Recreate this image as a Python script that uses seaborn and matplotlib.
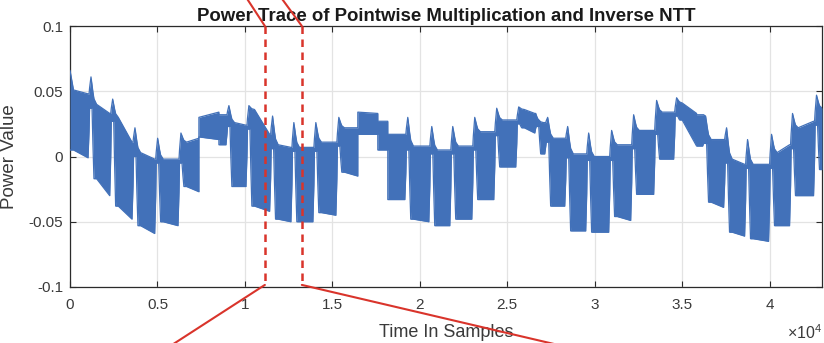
import numpy as np
import pandas as pd
import matplotlib
matplotlib.use("Agg")
import matplotlib.pyplot as plt
import seaborn as sns
from matplotlib.ticker import FuncFormatter, FixedLocator

# ---------------- data (envelope of the trace) ----------------
burst_start = [0, 1200, 2440, 3714, 5011, 6343, 7371, 8514, 9086, 10229,
               11583, 12800, 14057, 15371, 16457, 17600, 18171, 19314, 20686, 21886,
               23143, 24400, 25657, 26743, 27314, 28457, 29657, 30971, 32229, 33543,
               34686, 35829, 36343, 37543, 38743, 40114, 41314, 42686]
spike_peak = [0.066, 0.061, 0.044, 0.022, 0.014, 0.018, 0.030, 0.032, 0.039, 0.039,
              0.031, 0.026, 0.026, 0.030, 0.034, 0.027, 0.017, 0.030, 0.023, 0.023,
              0.030, 0.037, 0.038, 0.029, 0.030, 0.023, 0.018, 0.020, 0.032, 0.043,
              0.045, 0.032, 0.031, 0.022, 0.013, 0.017, 0.033, 0.047]
band_top_start = [0.051, 0.040, 0.030, 0.003, -0.002, 0.011, 0.030, 0.032, 0.026, 0.036,
                  0.009, 0.007, 0.011, 0.022, 0.034, 0.027, 0.017, 0.008, 0.005, 0.008,
                  0.019, 0.028, 0.036, 0.026, 0.014, 0.002, 0.000, 0.009, 0.020, 0.034,
                  0.041, 0.032, 0.013, -0.002, -0.006, 0.003, 0.022, 0.037]
band_top_end = [0.048, 0.033, 0.011, -0.002, -0.002, 0.014, 0.034, 0.032, 0.024, 0.017,
                0.007, 0.007, 0.011, 0.022, 0.033, 0.027, 0.017, 0.008, 0.005, 0.008,
                0.019, 0.028, 0.033, 0.026, 0.014, 0.002, 0.000, 0.009, 0.020, 0.034,
                0.033, 0.032, 0.013, -0.006, -0.006, 0.009, 0.027, 0.037]
band_low_start = [0.005, -0.017, -0.038, -0.053, -0.050, -0.023, 0.015, 0.009, -0.023, -0.038,
                  -0.048, -0.050, -0.043, -0.012, 0.017, 0.005, -0.033, -0.048, -0.053, -0.048,
                  -0.033, -0.008, 0.022, 0.002, -0.038, -0.057, -0.058, -0.046, -0.029, -0.002,
                  0.028, 0.008, -0.035, -0.058, -0.063, -0.053, -0.030, -0.010]
band_low_end = [-0.001, -0.030, -0.048, -0.059, -0.053, -0.027, 0.013, 0.009, -0.023, -0.042,
                -0.050, -0.050, -0.045, -0.015, 0.017, 0.005, -0.033, -0.050, -0.053, -0.048,
                -0.033, -0.008, 0.018, 0.002, -0.038, -0.057, -0.058, -0.049, -0.029, -0.002,
                0.008, 0.008, -0.039, -0.061, -0.065, -0.053, -0.030, -0.010]
trace_end = 43000

x_ticks = [0, 5000, 10000, 15000, 20000, 25000, 30000, 35000, 40000]
y_ticks = [-0.1, -0.05, 0, 0.05, 0.1]

# zoom-window annotation (red lines)
zoom_x = [11143, 13257]
zoom_y = [0.1, -0.0984]
lead_top_x = [9922, 11893]
lead_bottom_x = [5757, 28098]
lead_top_y = 0.125
lead_bottom_y = -0.145

# ---------------- build envelope polyline from the burst table ----------------
t, top, low = [], [], []
n = len(burst_start)
for i in range(n):
    s = burst_start[i]
    e = burst_start[i + 1] if i + 1 < n else trace_end
    pk, ts, te, ls, le = spike_peak[i], band_top_start[i], band_top_end[i], band_low_start[i], band_low_end[i]
    spike = pk > ts + 1e-9
    nxt_spike = (i + 1 < n) and (spike_peak[i + 1] > band_top_start[i + 1] + 1e-9)
    if i == 0:
        t += [s, s + 200]; top += [pk, ts]; low += [ls, ls]
    elif spike:
        prev_te = band_top_end[i - 1]
        gap = min(ts, prev_te) - 0.003
        t += [s - 80, s, s + 60, s + 110, s + 170, s + 320]
        top += [prev_te + 0.35 * (pk - prev_te), pk, pk - 0.3 * (pk - ts),
                pk - 0.55 * (pk - ts), pk - 0.8 * (pk - ts), ts]
        low += [gap, gap, gap, 0.5 * (gap + ls), ls, ls]
    else:
        t += [s + 1]; top += [ts]; low += [ls]
    if nxt_spike:
        t += [e - 170, e - 110]; top += [te, te]; low += [le, 0.5 * (le + min(te, band_top_start[i + 1]))]
    else:
        t += [e - 1]; top += [te]; low += [le]

trace = pd.DataFrame({"sample": t, "upper": top, "lower": low})

# ---------------- figure ----------------
sns.set_theme(style="whitegrid")
plt.rcParams["font.family"] = ["Liberation Sans", "DejaVu Sans"]
plt.rcParams["mathtext.fontset"] = "custom"
plt.rcParams["mathtext.rm"] = "Liberation Sans"

fig = plt.figure(figsize=(8.24, 3.43), dpi=100)
ax = fig.add_axes([70 / 824, 1 - 287 / 343, 752 / 824, 261 / 343])
ax.set_facecolor("white")

blue = "#4271B9"
ax.fill_between(trace["sample"], trace["lower"], trace["upper"], color=blue, lw=0, zorder=3)
sns.lineplot(data=trace, x="sample", y="upper", ax=ax, color=blue, lw=0.9,
             estimator=None, sort=False, zorder=3)
sns.lineplot(data=trace, x="sample", y="lower", ax=ax, color=blue, lw=0.9,
             estimator=None, sort=False, zorder=3)

ax.set_xlim(0, trace_end)
ax.set_ylim(-0.1, 0.1)
ax.xaxis.set_major_locator(FixedLocator(x_ticks))
ax.yaxis.set_major_locator(FixedLocator(y_ticks))
ax.xaxis.set_major_formatter(FuncFormatter(lambda v, p: f"{v / 1e4:g}"))
ax.yaxis.set_major_formatter(FuncFormatter(lambda v, p: "0" if abs(v) < 1e-12 else f"{v:g}"))

ax.grid(True, color="#E3E3E3", lw=0.9, zorder=0)
for sp in ax.spines.values():
    sp.set_visible(True)
    sp.set_color("#2B2B2B")
    sp.set_linewidth(0.9)
ax.tick_params(axis="both", which="both", direction="in", length=4, width=0.8,
               colors="#2B2B2B", labelcolor="#3A3A3A", labelsize=11,
               top=True, right=True, bottom=True, left=True)
ax.tick_params(axis="x", pad=8)
ax.tick_params(axis="y", pad=5)

ax.set_title("Power Trace of Pointwise Multiplication and Inverse NTT",
             fontsize=13.4, fontweight="bold", color="#1A1A1A", pad=3.5)
ax.set_xlabel("Time In Samples", fontsize=13, color="#3A3A3A")
ax.set_ylabel("Power Value", fontsize=13.5, color="#3A3A3A")
ax.xaxis.set_label_coords(0.5, -0.14)
ax.yaxis.set_label_coords(-0.069, 0.5)

fig.text(822 / 824, 1 - 339 / 343, r"$\times10^{4}$", ha="right", va="baseline",
         fontsize=11.5, color="#3A3A3A")

red = "#D9342B"
for zx in zoom_x:
    ax.plot([zx, zx], zoom_y, color=red, lw=1.8, ls=(0, (3, 2.2)), zorder=5, clip_on=False)
for zx, lx in zip(zoom_x, lead_top_x):
    ax.plot([zx, lx], [zoom_y[0], lead_top_y], color=red, lw=1.5, zorder=5, clip_on=False)
for zx, lx in zip(zoom_x, lead_bottom_x):
    ax.plot([zx, lx], [zoom_y[1], lead_bottom_y], color=red, lw=1.5, zorder=5, clip_on=False)

fig.savefig("out.png", dpi=100)
